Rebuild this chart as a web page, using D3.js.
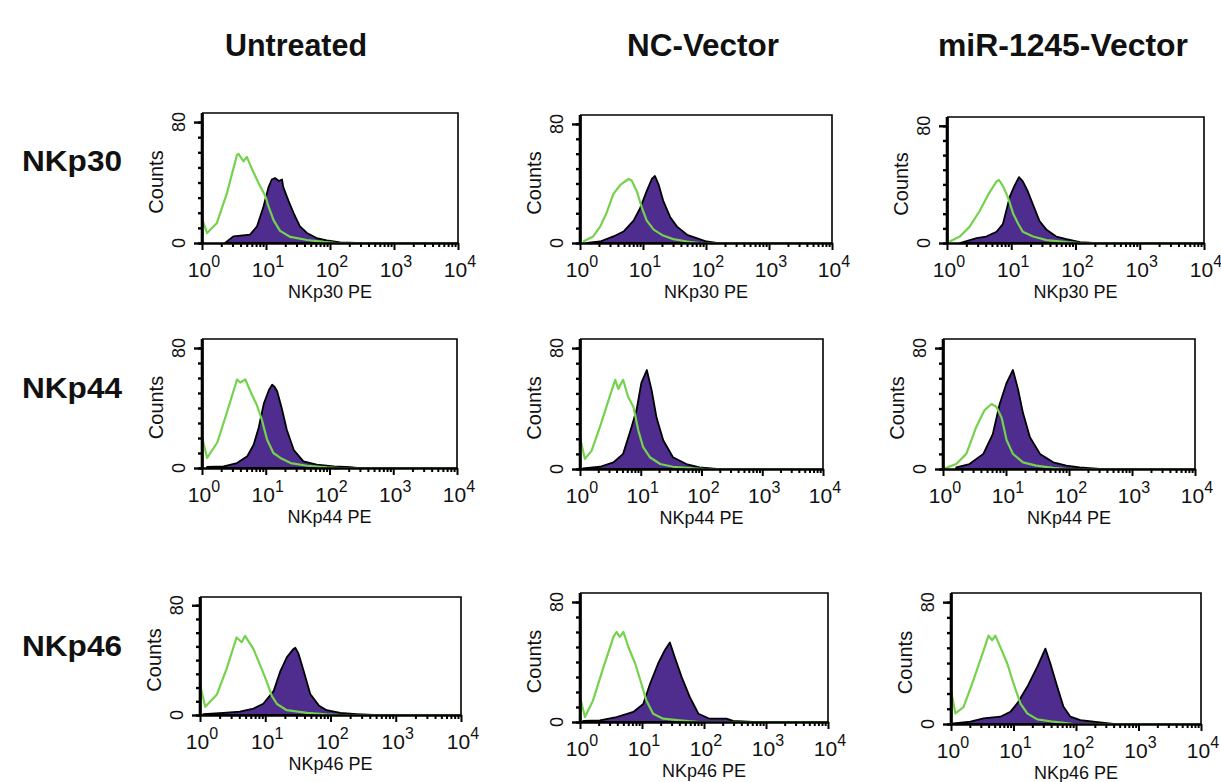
<!DOCTYPE html>
<head>
  <meta charset="utf-8" />
  <script src="https://d3js.org/d3.v7.min.js"></script>
  <style>
    body { margin: 0; background: #fff; }
    text { font-family: "Liberation Sans", Arial, sans-serif; fill: #111; }
  </style>
</head>
<body>
<div id="chart"></div>
<script>

// column / row names
var conditions = ["Untreated", "NC-Vector", "miR-1245-Vector"];
var receptors = ["NKp30", "NKp44", "NKp46"];
var xTickExps = [0, 1, 2, 3, 4];
var yMajorTicks = [0, 80];
var yMinorTicks = [0, 10, 20, 30, 40, 50, 60, 70, 80];

// histograms: [log10(fluorescence), counts]
// green = control (open line), purple = stained (filled)
var ctrl_NKp30_Untreated = [[0,0],[0,16],[0.08,6.6],[0.23,13],[0.39,33],[0.545,58],[0.57,59],[0.65,54],[0.70,57],[0.78,49],[0.88,40],[0.99,31],[1.04,24],[1.12,15],[1.22,8],[1.38,4],[1.64,2],[1.9,0.7],[2.1,0],[4,0]];
var stain_NKp30_Untreated = [[0.36,0],[0.49,4.4],[0.75,5.5],[0.86,11],[0.96,24],[1.04,37],[1.09,42],[1.14,43],[1.20,41],[1.25,42],[1.27,37],[1.35,28],[1.43,20],[1.53,11],[1.64,6.6],[1.79,3.3],[1.95,1.8],[2.16,0.4],[2.42,0]];

var ctrl_NKp30_NC = [[0.05,1],[0.21,4.4],[0.32,11],[0.42,20],[0.53,33],[0.64,39],[0.77,43],[0.82,42],[0.90,35],[0.98,24],[1.06,15],[1.17,9],[1.32,5],[1.48,2.6],[1.70,1],[1.91,0],[4,0]];
var stain_NKp30_NC = [[0.11,0],[0.32,1],[0.53,4.4],[0.69,7.7],[0.85,15],[0.95,23],[1.06,35],[1.14,43],[1.19,45],[1.25,39],[1.32,28.5],[1.43,17.5],[1.54,11],[1.70,5.5],[1.85,3.3],[2.01,1],[2.17,0]];

var ctrl_NKp30_miR = [[0.04,1],[0.20,4.4],[0.35,11],[0.51,22],[0.64,33],[0.77,42],[0.81,43],[0.87,39],[0.95,31],[1.03,20],[1.11,13],[1.18,7.7],[1.34,4.4],[1.55,2],[1.86,0.6],[2.07,0],[4,0]];
var stain_NKp30_miR = [[0.20,0],[0.46,3.3],[0.61,4.4],[0.77,7.7],[0.87,13],[0.98,32],[1.05,39],[1.12,45],[1.18,42],[1.26,35],[1.34,26],[1.44,15],[1.55,9],[1.70,4.4],[1.86,2.6],[2.07,0.6],[2.28,0]];

var ctrl_NKp44_Untreated = [[0,0],[0,21],[0.08,6.7],[0.24,17],[0.39,37],[0.55,59],[0.60,57],[0.68,59],[0.76,51],[0.86,42],[0.94,32],[1.02,19],[1.12,10],[1.23,6.7],[1.39,3.3],[1.65,1.5],[1.96,0.4],[2.17,0],[4,0]];
var stain_NKp44_Untreated = [[0.08,0.7],[0.34,1.1],[0.55,3.3],[0.71,7.8],[0.81,15.5],[0.89,27],[0.97,43],[1.05,52],[1.10,55.5],[1.14,54],[1.18,51],[1.25,40],[1.33,25.5],[1.44,12],[1.59,4.4],[1.80,2.2],[2.07,1],[2.33,0.6],[2.43,0]];

var ctrl_NKp44_NC = [[0,0],[0,21],[0.08,6.7],[0.19,12],[0.33,28],[0.49,48],[0.58,59],[0.63,53],[0.71,59],[0.79,48],[0.88,41],[0.96,25.5],[1.04,14.4],[1.15,7.8],[1.32,3.3],[1.53,1.5],[1.86,0.4],[2.08,0],[4,0]];
var stain_NKp44_NC = [[0.05,0.4],[0.33,1.5],[0.55,4.4],[0.71,10],[0.85,28],[0.93,39],[1.01,57],[1.10,65.5],[1.18,52],[1.26,34],[1.37,19],[1.53,7.8],[1.75,3.3],[1.97,1.1],[2.25,0]];

var ctrl_NKp44_miR = [[0.03,0.4],[0.21,3.3],[0.37,10],[0.53,28],[0.66,39],[0.77,43],[0.85,41],[0.93,34],[1.01,19],[1.11,10],[1.27,4.4],[1.48,2.2],[1.75,0.7],[1.96,0],[4,0]];
var stain_NKp44_miR = [[0.21,1.1],[0.42,3.3],[0.64,10],[0.79,23],[0.90,43],[1.01,57],[1.11,65.5],[1.19,53],[1.27,37],[1.38,21],[1.54,10],[1.75,4.4],[1.96,2.2],[2.17,1.1],[2.49,0]];

var ctrl_NKp46_Untreated = [[0,0],[0,22],[0.08,6],[0.26,15],[0.41,34],[0.56,56.5],[0.64,53],[0.69,57.6],[0.82,48],[0.92,36.5],[1.02,24.7],[1.10,14],[1.18,8],[1.33,3.5],[1.64,1.6],[1.94,0.5],[2.15,0],[4,0]];
var stain_NKp46_Untreated = [[0.05,0.7],[0.36,1.6],[0.61,2.4],[0.82,4.7],[0.97,8.2],[1.13,17.6],[1.23,31.8],[1.33,42],[1.43,48],[1.46,49],[1.51,44.7],[1.59,31.8],[1.69,15.3],[1.82,7],[1.94,3.5],[2.15,1.6],[2.40,0.7],[2.66,0]];

var ctrl_NKp46_NC = [[0,0],[0,16.7],[0.08,3.3],[0.21,14.4],[0.38,36.7],[0.54,56.7],[0.59,60],[0.64,56.7],[0.70,60],[0.78,50],[0.89,39],[0.99,25.5],[1.07,14.4],[1.18,5.5],[1.34,2.2],[1.61,1.1],[1.93,0],[4,0]];
var stain_NKp46_NC = [[0.05,0.7],[0.32,1.1],[0.59,3.3],[0.86,6.7],[1.02,12],[1.13,25.5],[1.26,39],[1.37,48],[1.45,53],[1.53,43],[1.64,30],[1.77,16.7],[1.91,5.5],[2.09,2.2],[2.36,2.2],[2.47,0.7],[2.79,0]];

var ctrl_NKp46_miR = [[0,0],[0,22],[0.07,7],[0.20,11],[0.36,29],[0.52,48],[0.60,58],[0.66,55],[0.71,58],[0.79,50.5],[0.90,39.7],[1.00,26.6],[1.11,13.5],[1.22,7],[1.38,3],[1.64,1.5],[1.96,0],[4,0]];
var stain_NKp46_miR = [[0.04,0.4],[0.31,1.5],[0.52,3.7],[0.79,4.8],[0.95,8],[1.06,13.5],[1.22,24.4],[1.38,37.5],[1.51,49.5],[1.59,39.7],[1.70,24.4],[1.80,11.3],[1.91,4.8],[2.07,2.6],[2.28,1.5],[2.60,0]];

var ctrlSeries = [
  [ctrl_NKp30_Untreated, ctrl_NKp30_NC, ctrl_NKp30_miR],
  [ctrl_NKp44_Untreated, ctrl_NKp44_NC, ctrl_NKp44_miR],
  [ctrl_NKp46_Untreated, ctrl_NKp46_NC, ctrl_NKp46_miR]
];
var stainSeries = [
  [stain_NKp30_Untreated, stain_NKp30_NC, stain_NKp30_miR],
  [stain_NKp44_Untreated, stain_NKp44_NC, stain_NKp44_miR],
  [stain_NKp46_Untreated, stain_NKp46_NC, stain_NKp46_miR]
];

// panel boxes [left, right, top, bottom] as measured on the figure
var boxes = [
  [[202,458,113,243],[580,832,115,243],[947,1204,117,243]],
  [[202,457,339,468],[580,823,339,469],[943,1195,339,469]],
  [[200,461,597,715],[580,828,593,722],[951,1201,593,724]]
];
var titleCenters = [296, 703, 1063];
var titleWidths = [142, 152, 250];
var rowBaselines = [171, 398, 656];

var green = "#74d24c", purple = "#4e2d8e";

var svg = d3.select("#chart").append("svg")
  .attr("width", 1221)
  .attr("height", 782);

// column titles
conditions.forEach(function(c, i) {
  svg.append("text")
    .attr("x", titleCenters[i] - titleWidths[i] / 2)
    .attr("y", 56)
    .attr("textLength", titleWidths[i])
    .attr("lengthAdjust", "spacingAndGlyphs")
    .style("font-size", "32px")
    .style("font-weight", "bold")
    .text(c);
});

receptors.forEach(function(r, ri) {
  svg.append("text")
    .attr("x", 22)
    .attr("y", rowBaselines[ri])
    .attr("textLength", 100)
    .attr("lengthAdjust", "spacingAndGlyphs")
    .style("font-size", "30px")
    .style("font-weight", "bold")
    .text(r);

  conditions.forEach(function(c, ci) {
    var b = boxes[ri][ci];
    var x = d3.scaleLog().domain([1, 1e4]).range([b[0], b[1]]);
    var y = d3.scaleLinear().domain([0, 86]).range([b[3], b[2]]);
    var g = svg.append("g");
    var clipId = "clip" + ri + ci;
    g.append("clipPath").attr("id", clipId)
      .append("rect")
      .attr("x", b[0]).attr("y", b[2])
      .attr("width", b[1] - b[0]).attr("height", b[3] - b[2]);

    var px = function(d) { return x(Math.pow(10, d[0])); };
    var plot = g.append("g").attr("clip-path", "url(#" + clipId + ")");

    // filled stained histogram
    plot.append("path")
      .datum(stainSeries[ri][ci])
      .attr("fill", purple)
      .attr("stroke", "#000")
      .attr("stroke-width", 1.8)
      .attr("stroke-linejoin", "round")
      .attr("d", d3.area().x(px).y0(y(0)).y1(function(d) { return y(d[1]); }));

    // control histogram
    plot.append("path")
      .datum(ctrlSeries[ri][ci])
      .attr("fill", "none")
      .attr("stroke", green)
      .attr("stroke-width", 2.2)
      .attr("stroke-linejoin", "round")
      .attr("d", d3.line().x(px).y(function(d) { return y(d[1]); }));

    // frame
    g.append("path")
      .attr("d", "M" + b[0] + "," + b[2] + "H" + b[1] + "V" + b[3])
      .attr("fill", "none")
      .attr("stroke", "#000")
      .attr("stroke-width", 1.6);

    // x axis: major + minor log ticks
    var minors = [];
    for (var e = 0; e < 4; e++) {
      for (var m = 2; m < 10; m++) minors.push(m * Math.pow(10, e));
    }
    var xa = g.append("g").attr("transform", "translate(0," + b[3] + ")");
    xa.call(d3.axisBottom(x).tickValues(minors).tickSize(4).tickFormat("").tickSizeOuter(0));
    xa.call(function(s) { s.select(".domain").remove(); });
    var xb = g.append("g").attr("transform", "translate(0," + b[3] + ")");
    xb.call(d3.axisBottom(x).tickValues(xTickExps.map(function(k) { return Math.pow(10, k); }))
      .tickSize(7).tickFormat("").tickSizeOuter(0));
    g.selectAll(".tick line").attr("stroke-width", 2);
    xb.select(".domain").attr("stroke-width", 2.6);

    xTickExps.forEach(function(k) {
      var t = g.append("text")
        .attr("x", x(Math.pow(10, k)) + 2)
        .attr("y", b[3] + 34)
        .attr("text-anchor", "middle")
        .style("font-size", "21px");
      t.append("tspan").text("10");
      t.append("tspan").attr("dy", -10).style("font-size", "16px").text(k);
    });

    g.append("text")
      .attr("x", (b[0] + b[1]) / 2)
      .attr("y", b[3] + 55)
      .attr("text-anchor", "middle")
      .style("font-size", "18px")
      .text(r + " PE");

    // y axis
    var ya = g.append("g").attr("transform", "translate(" + b[0] + ",0)");
    ya.call(d3.axisLeft(y).tickValues(yMinorTicks).tickSize(4).tickFormat("").tickSizeOuter(0));
    ya.select(".domain").remove();
    var yb = g.append("g").attr("transform", "translate(" + b[0] + ",0)");
    yb.call(d3.axisLeft(y).tickValues(yMajorTicks).tickSize(8).tickFormat("").tickSizeOuter(0));
    yb.select(".domain").attr("stroke-width", 2.6);
    ya.selectAll(".tick line").attr("stroke-width", 2.4);
    yb.selectAll(".tick line").attr("stroke-width", 2.4);
    g.append("line")
      .attr("x1", b[0]).attr("x2", b[0])
      .attr("y1", b[2]).attr("y2", b[3])
      .attr("stroke", "#000").attr("stroke-width", 2.6);

    yMajorTicks.forEach(function(v) {
      g.append("text")
        .attr("transform", "translate(" + (b[0] - 17) + "," + y(v) + ") rotate(-90)")
        .attr("text-anchor", "middle")
        .style("font-size", "18px")
        .text(v);
    });

    g.append("text")
      .attr("transform", "translate(" + (b[0] - 39) + "," + ((b[2] + b[3]) / 2 + 4) + ") rotate(-90)")
      .attr("text-anchor", "middle")
      .style("font-size", "20px")
      .text("Counts");
  });
});

</script>
</body>
</html>
